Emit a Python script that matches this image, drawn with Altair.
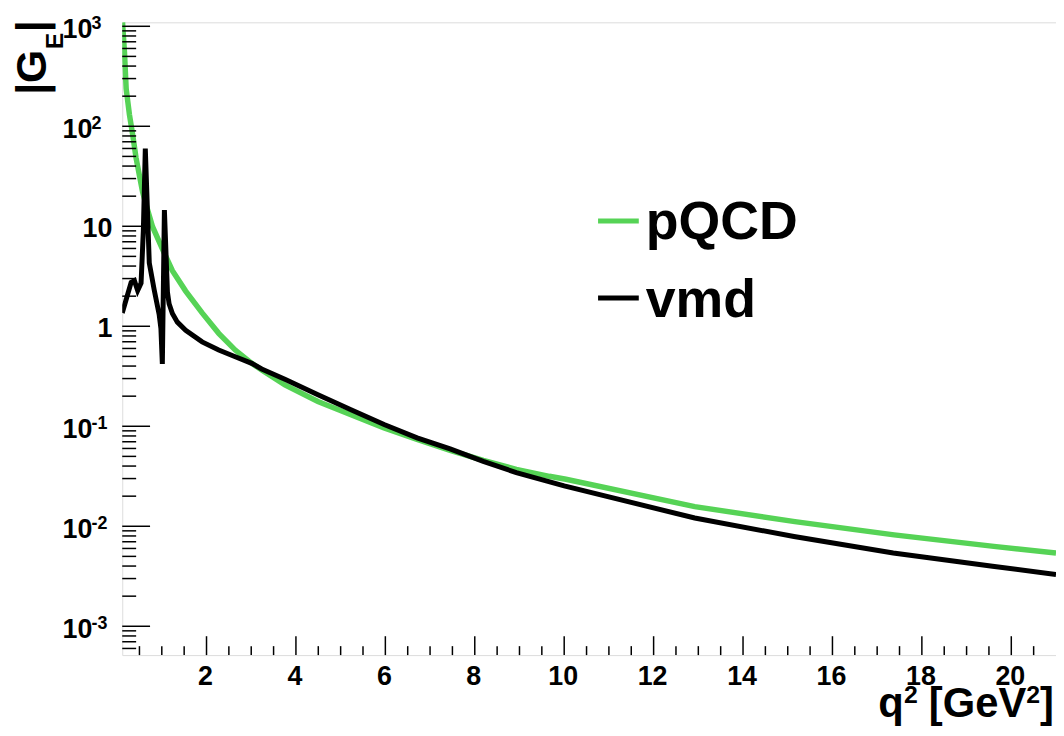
import altair as alt
import pandas as pd

# ---------------- data ----------------
pqcd_q2 = [0.122, 0.127, 0.165, 0.203, 0.276, 0.349, 0.425, 0.536, 0.571, 0.647, 0.793,
           1.015, 1.237, 1.534, 1.902, 2.273, 2.643, 3.012, 3.234, 3.753, 4.492, 5.231,
           5.972, 6.71, 7.449, 8.19, 8.929, 9.668, 10.04, 12.92, 15.16, 17.38, 19.61, 21.0]
pqcd_ge = [1100, 1000, 552, 237, 131, 82, 48, 26.5, 22, 16.5, 9.9,
           5.9, 3.6, 2.25, 1.36, 0.85, 0.578, 0.426, 0.366, 0.259, 0.177, 0.1306,
           0.0963, 0.0738, 0.0575, 0.0455, 0.0371, 0.0316, 0.0295, 0.0157, 0.01114, 0.0082, 0.00629, 0.0054]

vmd_q2 = [0.115, 0.203, 0.314, 0.387, 0.46, 0.536, 0.587, 0.631, 0.682, 0.72, 0.831, 0.942,
          0.98, 1.012, 1.058, 1.126, 1.163, 1.237, 1.348, 1.534, 1.902, 2.273, 2.643, 3.012,
          3.234, 3.753, 4.492, 5.231, 5.972, 6.71, 7.449, 8.19, 8.929, 10.0, 12.92, 15.14,
          17.36, 19.58, 21.0]
vmd_ge = [1.36, 1.85, 2.75, 2.86, 2.28, 2.7, 9.0, 60.0, 13.0, 4.3, 2.3, 1.3,
          0.95, 0.42, 14.5, 2.2, 1.68, 1.34, 1.10, 0.912, 0.698, 0.578, 0.496, 0.426,
          0.374, 0.296, 0.2066, 0.1466, 0.104, 0.0767, 0.0595, 0.0445, 0.0344, 0.0253, 0.0121, 0.0079,
          0.0054, 0.00398, 0.00329]

x_major = [2, 4, 6, 8, 10, 12, 14, 16, 18, 20]
x_labels = ["2", "4", "6", "8", "10", "12", "14", "16", "18", "20"]
x_minor = [0.5, 1, 1.5, 2.5, 3, 3.5, 4.5, 5, 5.5, 6.5, 7, 7.5, 8.5, 9, 9.5, 10.5, 11, 11.5,
           12.5, 13, 13.5, 14.5, 15, 15.5, 16.5, 17, 17.5, 18.5, 19, 19.5, 20.5]
y_major = [1e-3, 1e-2, 1e-1, 1, 10, 100, 1000]
y_label_base = ["10", "10", "10", "1", "10", "10", "10"]
y_label_exp = ["-3", "-2", "-1", "", "", "2", "3"]

X_DOMAIN = [0.115, 21.0]
Y_DOMAIN = [5.15e-4, 1096]
y_minor = [m * 10.0 ** k for k in range(-4, 3) for m in range(2, 10)
           if Y_DOMAIN[0] <= m * 10.0 ** k <= Y_DOMAIN[1]]

# ---------------- styling ----------------
W, H = 940, 637
FONT = "Liberation Sans"
GREEN = "#56d356"

xscale = alt.Scale(domain=X_DOMAIN, nice=False, zero=False)
yscale = alt.Scale(type="log", domain=Y_DOMAIN, nice=False)

pqcd = alt.Chart(pd.DataFrame({"q2": pqcd_q2, "ge": pqcd_ge})).mark_line(
    color=GREEN, strokeWidth=5.5, clip=True
).encode(
    x=alt.X("q2:Q", scale=xscale, axis=None),
    y=alt.Y("ge:Q", scale=yscale, axis=None),
)

vmd = alt.Chart(pd.DataFrame({"q2": vmd_q2, "ge": vmd_ge})).mark_line(
    color="black", strokeWidth=5, clip=True, strokeJoin="miter"
).encode(
    x=alt.X("q2:Q", scale=xscale, axis=None),
    y=alt.Y("ge:Q", scale=yscale, axis=None),
)

# ticks drawn inward, ROOT style
ytick_major = alt.Chart(pd.DataFrame({"v": y_major})).mark_rule(color="black", strokeWidth=1.5).encode(
    y=alt.Y("v:Q", scale=yscale, axis=None), x=alt.value(0), x2=alt.value(28))
ytick_minor = alt.Chart(pd.DataFrame({"v": y_minor})).mark_rule(color="black", strokeWidth=1.5).encode(
    y=alt.Y("v:Q", scale=yscale, axis=None), x=alt.value(0), x2=alt.value(14))
xtick_major = alt.Chart(pd.DataFrame({"t": x_major})).mark_rule(color="black", strokeWidth=1.5).encode(
    x=alt.X("t:Q", scale=xscale, axis=None), y=alt.value(H), y2=alt.value(H - 19))
xtick_minor = alt.Chart(pd.DataFrame({"t": x_minor})).mark_rule(color="black", strokeWidth=1.5).encode(
    x=alt.X("t:Q", scale=xscale, axis=None), y=alt.value(H), y2=alt.value(H - 9))

# x tick labels
xlab = alt.Chart(pd.DataFrame({"t": x_major, "lab": x_labels})).mark_text(
    align="center", baseline="alphabetic", dx=-1, font=FONT, fontSize=27, fontWeight="bold", color="black"
).encode(x=alt.X("t:Q", scale=xscale, axis=None), y=alt.value(H + 30), text="lab:N")

# y tick labels with superscript exponents
ylab = pd.DataFrame({"v": y_major, "base": y_label_base, "exp": y_label_exp})
ybase_plain = alt.Chart(ylab).transform_filter("datum.exp == ''").mark_text(
    align="right", baseline="alphabetic", dy=11, font=FONT, fontSize=27, fontWeight="bold", color="black"
).encode(y=alt.Y("v:Q", scale=yscale, axis=None), x=alt.value(-10), text="base:N")
ybase_exp = alt.Chart(ylab).transform_filter("datum.exp != ''").mark_text(
    align="right", baseline="alphabetic", dy=12, font=FONT, fontSize=27, fontWeight="bold", color="black"
).encode(y=alt.Y("v:Q", scale=yscale, axis=None), x=alt.value(-30), text="base:N")
yexp = alt.Chart(ylab).transform_filter("datum.exp != ''").mark_text(
    align="left", baseline="alphabetic", dy=3, font=FONT, fontSize=18, fontWeight="bold", color="black"
).encode(y=alt.Y("v:Q", scale=yscale, axis=None), x=alt.value(-31), text="exp:N")


def label(txt, x, y, size, angle=0, align="left"):
    return alt.Chart(pd.DataFrame({"t": [txt]})).mark_text(
        align=align, baseline="alphabetic", font=FONT, fontSize=size, fontWeight="bold",
        color="black", angle=angle
    ).encode(x=alt.value(x), y=alt.value(y), text="t:N")


# axis titles
ytitle = [
    label("|G", -77, 73, 43, angle=270),
    label("E", -60, 27, 25, angle=270),
    label("|", -77, 10, 43, angle=270),
]
xtitle = [
    label("q", 761, 699, 42),
    label("2", 787, 685, 25),
    label("[GeV", 812, 699, 42),
    label("2", 910, 685, 25),
    label("]", 924, 699, 42),
]

# legend
def seg(y, color):
    return alt.Chart(pd.DataFrame({"a": [0]})).mark_rule(color=color, strokeWidth=5).encode(
        x=alt.value(479), x2=alt.value(520), y=alt.value(y))

legend = [
    seg(200, GREEN),
    seg(277.5, "black"),
    label("pQCD", 527, 218, 54),
    label("vmd", 527, 297, 54),
]

chart = alt.layer(
    pqcd, vmd, ytick_major, ytick_minor, xtick_major, xtick_minor, xlab,
    ybase_plain, ybase_exp, yexp, *ytitle, *xtitle, *legend
).properties(
    width=W, height=H,
    autosize=alt.AutoSizeParams(type="none"),
    padding={"left": 115, "top": 12, "right": 0, "bottom": 71},
).configure_view(
    stroke="black", strokeWidth=2, fill="white"
).configure(background="white")

chart.save("out.html", embed_options={"renderer": "svg", "actions": False})
